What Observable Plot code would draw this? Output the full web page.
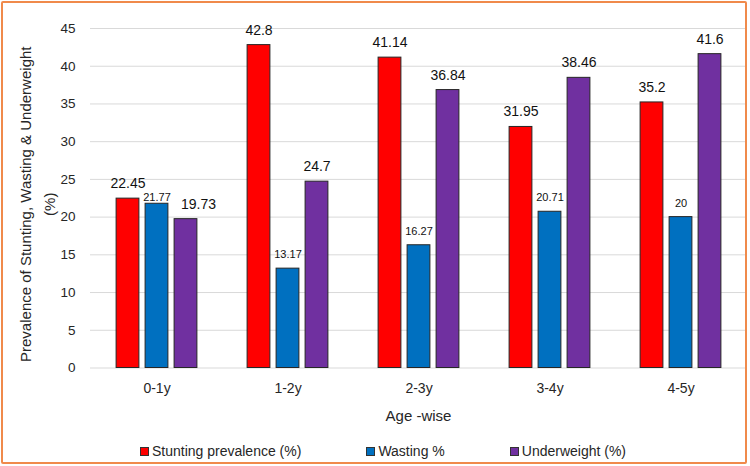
<!DOCTYPE html>
<html>
<head>
<meta charset="utf-8">
<script src="https://cdn.jsdelivr.net/npm/d3@7"></script>
<script src="https://cdn.jsdelivr.net/npm/@observablehq/plot@0.6"></script>
<style>
  html, body { margin: 0; padding: 0; background: #fff; overflow: hidden; }
  body { width: 750px; height: 466px; position: relative; font-family: "Liberation Sans", Arial, sans-serif; }
  #frame { position: absolute; left: 1px; top: 1px; width: 746px; height: 463px; box-sizing: border-box;
           border: 2px solid #F08A4B; border-radius: 2px; pointer-events: none; }
  #chart { position: absolute; left: 0; top: 0; }
  #legend { position: absolute; left: 8px; top: 443px; width: 750px; display: flex; justify-content: center;
            gap: 65px; font-size: 14px; color: #262626; line-height: 16px; }
  #legend .item { display: flex; align-items: center; white-space: nowrap; }
  #legend .sw { width: 9px; height: 9px; box-sizing: border-box; border: 1px solid #333; margin-right: 3px; }
</style>
</head>
<body>
<div id="chart"></div>
<div id="legend"></div>
<div id="frame"></div>
<script>
// Age groups and the three indicators (percent)
const ages = ["0-1y", "1-2y", "2-3y", "3-4y", "4-5y"];
const seriesNames = ["Stunting prevalence (%)", "Wasting %", "Underweight (%)"];
const stunting = [22.45, 42.8, 41.14, 31.95, 35.2];
const wasting = [21.77, 13.17, 16.27, 20.71, 20];
const underweight = [19.73, 24.7, 36.84, 38.46, 41.6];
const seriesColors = ["#FF0000", "#0070C0", "#7030A0"];
const yTicks = [0, 5, 10, 15, 20, 25, 30, 35, 40, 45];
const yTitle = "Prevalence of Stunting, Wasting & Underweight\n(%)";
const xTitle = "Age -wise";

const seriesValues = [stunting, wasting, underweight];
const rows = seriesValues.map((vals, s) =>
  ages.map((age, i) => ({age, series: seriesNames[s], s, i, value: vals[i]}))
);

// Geometry of the grouped bars inside each age band
const W = 750, H = 430;
const mL = 90, mR = 4, mT = 28, mB = 62.5;
const step = (W - mL - mR) / ages.length;
const barW = 23, gap = 6;
const lead = (step - (3 * barW + 2 * gap)) / 2;
const inL = s => lead + s * (barW + gap);
const inR = s => step - inL(s) - barW;
const offs = s => inL(s) + barW / 2 - step / 2;

// A value label that sits close to its left neighbour's label is moved
// out of the way: lowered (wasting) or pushed right (underweight).
const crowded = d => d.s > 0 && Math.abs(seriesValues[d.s - 1][d.i] - d.value) < 3;
const labelShift = s => s === 1 ? {dx: 0, dy: -2.5} : {dx: 12.5, dy: -10};

const textColor = "#262626";

const marks = [
  Plot.ruleY(yTicks, {stroke: "#d9d9d9", strokeWidth: 1}),
  Plot.axisY(yTicks, {tickSize: 0, tickPadding: 15, fontSize: 13.5, label: null, fill: textColor}),
  Plot.axisX({tickSize: 0, tickPadding: 15, fontSize: 14, label: null, fill: textColor}),
  Plot.text([xTitle], {frameAnchor: "bottom", dy: 48.5, lineAnchor: "middle", fontSize: 15, fill: textColor}),
  Plot.text([yTitle], {frameAnchor: "left", dx: -55, dy: 6, rotate: -90, textAnchor: "middle", lineAnchor: "middle",
                       lineHeight: 1.6, fontSize: 15, fill: textColor})
];

rows.forEach((data, s) => {
  marks.push(Plot.barY(data, {
    x: "age", y: "value", fill: seriesColors[s],
    stroke: "#262626", strokeWidth: 1,
    insetLeft: inL(s), insetRight: inR(s)
  }));
  const label = {x: "age", y: "value", text: d => String(d.value), lineAnchor: "bottom",
                 fontSize: s === 1 ? 11 : 14, fill: "#111"};
  marks.push(Plot.text(data.filter(d => !crowded(d)), {...label, dx: offs(s), dy: -10.5}));
  const sh = labelShift(s);
  marks.push(Plot.text(data.filter(crowded), {...label, dx: offs(s) + sh.dx, dy: sh.dy}));
});

const chart = Plot.plot({
  width: W, height: H,
  marginLeft: mL, marginRight: mR, marginTop: mT, marginBottom: mB,
  style: {fontFamily: "'Liberation Sans', Arial, sans-serif", background: "transparent", overflow: "visible"},
  x: {domain: ages, padding: 0, axis: null},
  y: {domain: [0, 45], axis: null},
  marks
});
document.getElementById("chart").append(chart);

// Legend below the plot
const legend = d3.select("#legend");
seriesNames.forEach((name, s) => {
  const item = legend.append("div").attr("class", "item");
  item.append("div").attr("class", "sw").style("background", seriesColors[s]);
  item.append("span").text(name);
});
</script>
</body>
</html>
